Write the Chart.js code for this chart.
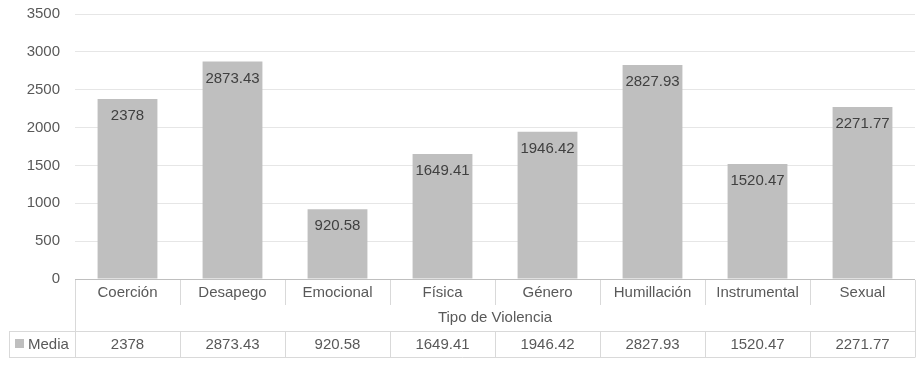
<!DOCTYPE html>
<html><head><meta charset="utf-8">
<script src="https://cdn.jsdelivr.net/npm/chart.js@4/dist/chart.umd.min.js"></script>
<style>html,body{margin:0;padding:0;background:#fff}#wrap{width:924px;height:366px}</style>
</head><body><div id="wrap"><canvas id="c" width="924" height="366"></canvas></div>
<script>
const categories = ["Coerción","Desapego","Emocional","Física","Género","Humillación","Instrumental","Sexual"];
const mediaValues = [2378, 2873.43, 920.58, 1649.41, 1946.42, 2827.93, 1520.47, 2271.77];
const valueLabels = ["2378","2873.43","920.58","1649.41","1946.42","2827.93","1520.47","2271.77"];
const seriesName = "Media";
const axisTitle = "Tipo de Violencia";
const yTicks = [0,500,1000,1500,2000,2500,3000,3500];

const FONT = "'Liberation Sans', Arial, sans-serif";
const TXT = '#595959';
const LINE = '#d9d9d9';

const tablePlugin = {
  id: 'tablePlugin',
  afterDatasetsDraw(chart) {
    const ctx = chart.ctx;
    const meta = chart.getDatasetMeta(0);
    ctx.save();
    ctx.font = '15px ' + FONT;
    ctx.fillStyle = '#404040';
    ctx.textAlign = 'center';
    ctx.textBaseline = 'middle';
    meta.data.forEach((bar, i) => {
      ctx.fillText(valueLabels[i], bar.x, bar.y + 17);
    });
    ctx.restore();
  },
  afterDraw(chart) {
    const ctx = chart.ctx;
    const x = chart.scales.x;
    const ca = chart.chartArea;
    const L = ca.left, R = ca.right, B = ca.bottom;
    const n = categories.length;
    const bounds = [L];
    for (let i = 0; i < n - 1; i++) bounds.push((x.getPixelForValue(i) + x.getPixelForValue(i + 1)) / 2);
    bounds.push(R);
    const row1B = B + 26, row2B = B + 52, row3B = B + 78;
    const legL = 9;
    ctx.save();
    ctx.strokeStyle = LINE;
    ctx.lineWidth = 1;
    const line = (x1, y1, x2, y2) => { ctx.beginPath(); ctx.moveTo(x1, y1); ctx.lineTo(x2, y2); ctx.stroke(); };
    for (let i = 1; i < n; i++) {
      const bx = Math.round(bounds[i]) + 0.5;
      line(bx, B + 1, bx, row1B);
      line(bx, row2B, bx, row3B);
    }
    const lx = Math.round(L) + 0.5, rx = Math.round(R) + 0.5;
    line(lx, B + 1, lx, row3B);
    line(rx, B + 1, rx, row3B);
    line(legL + 0.5, row2B, legL + 0.5, row3B);
    line(legL, row2B + 0.5, rx, row2B + 0.5);
    line(legL, row3B + 0.5, rx, row3B + 0.5);
    ctx.font = '15px ' + FONT;
    ctx.fillStyle = TXT;
    ctx.textAlign = 'center';
    ctx.textBaseline = 'middle';
    for (let i = 0; i < n; i++) {
      const cx = x.getPixelForValue(i);
      ctx.fillText(categories[i], cx, B + 14);
      ctx.fillText(valueLabels[i], cx, row2B + 14);
    }
    ctx.fillText(axisTitle, (L + R) / 2, row1B + 13);
    ctx.fillStyle = '#bfbfbf';
    ctx.fillRect(15, row2B + 8, 9, 9);
    ctx.fillStyle = TXT;
    ctx.textAlign = 'left';
    ctx.fillText(seriesName, 28, row2B + 14);
    ctx.restore();
  }
};

new Chart(document.getElementById('c'), {
  type: 'bar',
  data: {
    labels: categories,
    datasets: [{
      label: seriesName,
      data: mediaValues,
      backgroundColor: '#bfbfbf',
      borderWidth: 0,
      categoryPercentage: 1,
      barPercentage: 0.57
    }]
  },
  options: {
    responsive: false,
    animation: false,
    devicePixelRatio: 1,
    layout: { padding: { top: 14, right: 9, bottom: 87, left: 0 } },
    plugins: { legend: { display: false }, tooltip: { enabled: false } },
    scales: {
      x: { display: false },
      y: {
        min: 0, max: 3500,
        afterBuildTicks(scale) { scale.ticks = yTicks.map(v => ({ value: v })); },
        afterFit(scale) { scale.width = 75; scale.paddingTop = 0; scale.paddingBottom = 0; },
        border: { display: false },
        grid: {
          drawTicks: false,
          color: ctx => ctx.tick && ctx.tick.value === 0 ? '#bfbfbf' : '#e6e6e6',
          lineWidth: 1
        },
        ticks: {
          padding: 15,
          color: TXT,
          font: { family: FONT, size: 15 },
          callback: v => String(v)
        }
      }
    }
  },
  plugins: [tablePlugin]
});
</script></body></html>
